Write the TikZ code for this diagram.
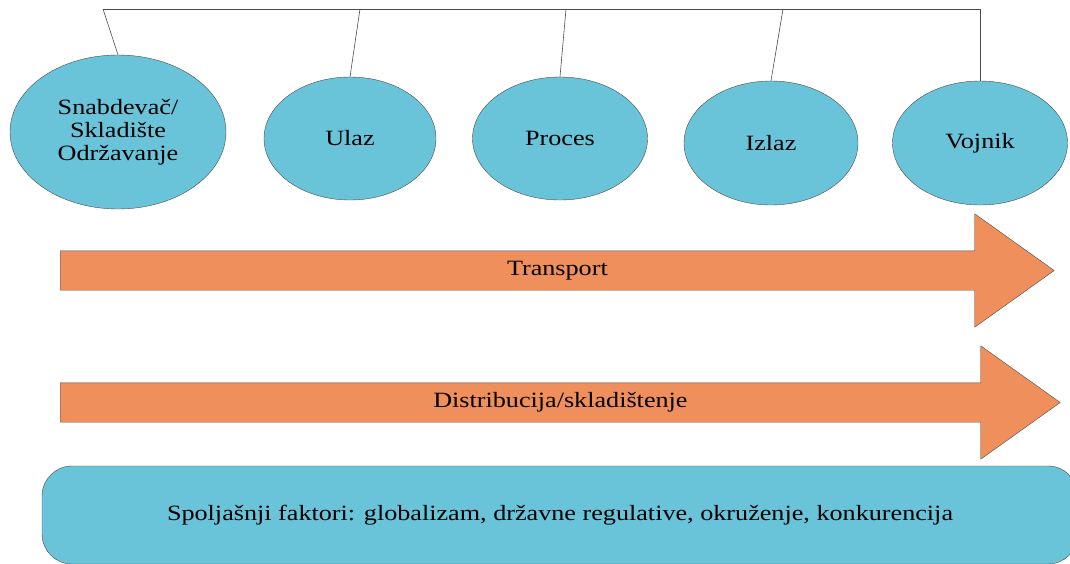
\documentclass[tikz,border=0pt]{standalone}
\usepackage{fontspec}
\setmainfont{Liberation Serif}[FakeStretch=1.2]
\usepackage{tikz}
\usetikzlibrary{shapes,arrows,positioning}
\definecolor{StageBlue}{RGB}{105,195,217}
\definecolor{FlowOrange}{RGB}{239,143,91}
\tikzset{
  every node/.style={
    font=\fontsize{21.8}{23}\selectfont
  },
  stage/.style n args={2}{
    shape=ellipse,
    draw=black!70,
    fill=StageBlue,
    minimum width=#1,
    minimum height=#2,
    inner sep=0pt,
    align=center
  },
  flow/.style n args={2}{
    shape=single arrow,
    draw=black!70,
    fill=FlowOrange,
    minimum height=#1,
    text height=13pt,
    text depth=4pt,
    inner ysep=11pt,
    single arrow head extend=37pt,
    single arrow tip angle=71,
    anchor=tail,
    label={[xshift=14pt]center:#2}
  },
  factors/.style={
    shape=rectangle,
    draw=black!70,
    fill=StageBlue,
    rounded corners=30pt,
    minimum width=1036pt,
    minimum height=98pt
  },
  link/.style={
    draw=black!70,
    line width=0.6pt
  }
}
\begin{document}
\begin{tikzpicture}[x=1pt,y=-1pt]
    \useasboundingbox (0,0) rectangle (1070,563);
    % stages
    \node [stage={216pt}{154pt}] (s1) at (118,132) {Snabdevač/\\Skladište\\Održavanje};
    \node [stage={172pt}{123pt}] (s2) at (350,138.5) {Ulaz};
    \node [stage={175pt}{123pt}] (s3) at (560,138.5) {Proces};
    \node [stage={174pt}{124pt}] (s4) at (771,143) {Izlaz};
    \node [stage={175pt}{124pt}] (s5) at (980,143) {Vojnik};
    % top bar
    \coordinate (t1) at (103,9);
    \coordinate (t2) at (360,9);
    \coordinate (t3) at (566,9);
    \coordinate (t4) at (783,9);
    \coordinate (t5) at (980,9);
    \draw [link] (t1) -- (t5);
    \foreach \i in {1,...,5}
      \draw [link] (t\i) -- (s\i.north);
    % flows
    \node [flow={994pt}{Transport}] (transport) at (60,270.5) {};
    \node [flow={1000pt}{Distribucija/skladištenje}] (distribution) at (60,402.5) {};
    % outside factors
    \node [factors] (outside) at (560,515) {Spoljašnji faktori: globalizam, državne regulative, okruženje, konkurencija};
\end{tikzpicture}
\end{document}
